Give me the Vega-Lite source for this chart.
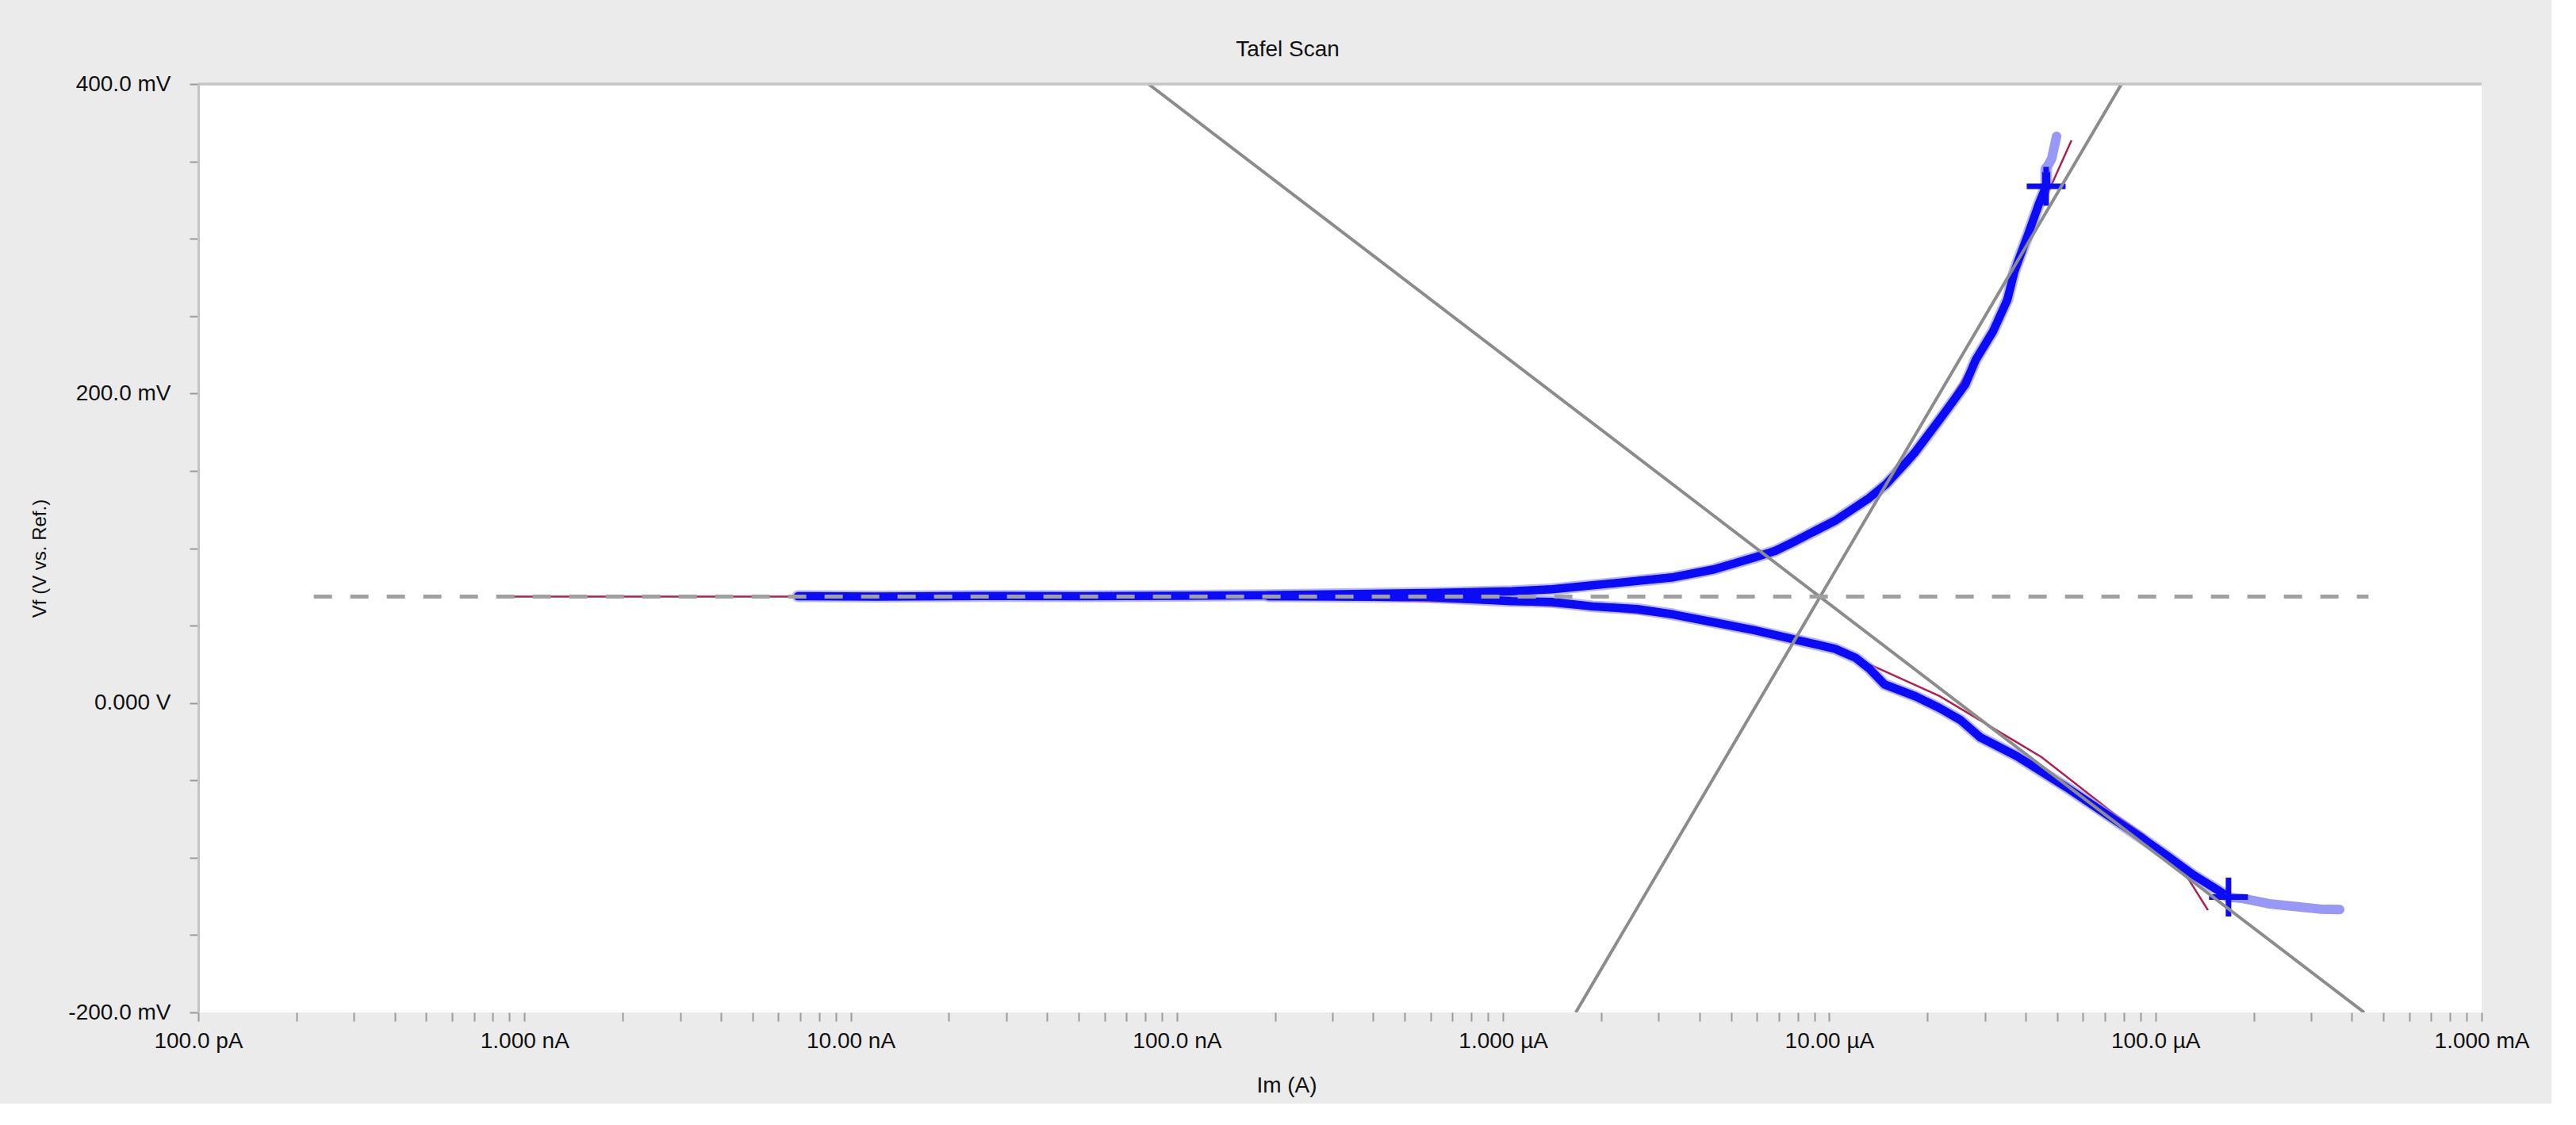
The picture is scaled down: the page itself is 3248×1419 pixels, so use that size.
{
  "$schema": "https://vega.github.io/schema/vega-lite/v6.json",
  "width": 2879,
  "height": 1171,
  "autosize": {"type": "none"},
  "padding": {"left": 250, "top": 106, "right": 88, "bottom": 115},
  "background": "#EBEBEB",
  "title": {"text": "Tafel Scan", "fontSize": 28, "font": "Liberation Sans", "fontWeight": "normal", "color": "#111111", "anchor": "middle", "dx": -66, "offset": -7, "baseline": "alphabetic"},
  "datasets": {
    "blue": [
      {"branch": "a", "seq": 1, "I": 6.89e-9, "E": 0.0690},
      {"branch": "a", "seq": 2, "I": 1.2e-8, "E": 0.0688},
      {"branch": "a", "seq": 3, "I": 2.5e-8, "E": 0.0691},
      {"branch": "a", "seq": 4, "I": 5.0e-8, "E": 0.0690},
      {"branch": "a", "seq": 5, "I": 1.0e-7, "E": 0.0692},
      {"branch": "a", "seq": 6, "I": 1.914e-7, "E": 0.0697},
      {"branch": "a", "seq": 7, "I": 6.0e-7, "E": 0.0711},
      {"branch": "a", "seq": 8, "I": 1.062e-6, "E": 0.0722},
      {"branch": "a", "seq": 9, "I": 1.413e-6, "E": 0.0735},
      {"branch": "a", "seq": 10, "I": 1.879e-6, "E": 0.0760},
      {"branch": "a", "seq": 11, "I": 2.5e-6, "E": 0.0786},
      {"branch": "a", "seq": 12, "I": 3.327e-6, "E": 0.0812},
      {"branch": "a", "seq": 13, "I": 4.43e-6, "E": 0.0863},
      {"branch": "a", "seq": 14, "I": 5.89e-6, "E": 0.0940},
      {"branch": "a", "seq": 15, "I": 6.82e-6, "E": 0.0982},
      {"branch": "a", "seq": 16, "I": 7.83e-6, "E": 0.1044},
      {"branch": "a", "seq": 17, "I": 1.042e-5, "E": 0.1178},
      {"branch": "a", "seq": 18, "I": 1.327e-5, "E": 0.1325},
      {"branch": "a", "seq": 19, "I": 1.5e-5, "E": 0.1418},
      {"branch": "a", "seq": 20, "I": 1.706e-5, "E": 0.1546},
      {"branch": "a", "seq": 21, "I": 1.837e-5, "E": 0.1623},
      {"branch": "a", "seq": 22, "I": 2.183e-5, "E": 0.1833},
      {"branch": "a", "seq": 23, "I": 2.612e-5, "E": 0.2058},
      {"branch": "a", "seq": 24, "I": 2.812e-5, "E": 0.2217},
      {"branch": "a", "seq": 25, "I": 3.177e-5, "E": 0.2401},
      {"branch": "a", "seq": 26, "I": 3.516e-5, "E": 0.2606},
      {"branch": "a", "seq": 27, "I": 3.698e-5, "E": 0.2791},
      {"branch": "a", "seq": 28, "I": 4.093e-5, "E": 0.3042},
      {"branch": "a", "seq": 29, "I": 4.395e-5, "E": 0.3226},
      {"branch": "a", "seq": 30, "I": 4.624e-5, "E": 0.3339},
      {"branch": "a", "seq": 31, "I": 4.624e-5, "E": 0.3452},
      {"branch": "c", "seq": 1, "I": 1.914e-7, "E": 0.0690},
      {"branch": "c", "seq": 2, "I": 5.87e-7, "E": 0.0685},
      {"branch": "c", "seq": 3, "I": 1.062e-6, "E": 0.0658},
      {"branch": "c", "seq": 4, "I": 1.413e-6, "E": 0.0653},
      {"branch": "c", "seq": 5, "I": 1.879e-6, "E": 0.0624},
      {"branch": "c", "seq": 6, "I": 2.576e-6, "E": 0.0607},
      {"branch": "c", "seq": 7, "I": 3.327e-6, "E": 0.0572},
      {"branch": "c", "seq": 8, "I": 4.43e-6, "E": 0.0521},
      {"branch": "c", "seq": 9, "I": 5.89e-6, "E": 0.0470},
      {"branch": "c", "seq": 10, "I": 7.83e-6, "E": 0.0410},
      {"branch": "c", "seq": 11, "I": 1.042e-5, "E": 0.0350},
      {"branch": "c", "seq": 12, "I": 1.208e-5, "E": 0.0290},
      {"branch": "c", "seq": 13, "I": 1.327e-5, "E": 0.0222},
      {"branch": "c", "seq": 14, "I": 1.476e-5, "E": 0.0120},
      {"branch": "c", "seq": 15, "I": 1.837e-5, "E": 0.0043},
      {"branch": "c", "seq": 16, "I": 2.183e-5, "E": -0.0034},
      {"branch": "c", "seq": 17, "I": 2.529e-5, "E": -0.0111},
      {"branch": "c", "seq": 18, "I": 2.904e-5, "E": -0.0222},
      {"branch": "c", "seq": 19, "I": 3.741e-5, "E": -0.0341},
      {"branch": "c", "seq": 20, "I": 4.477e-5, "E": -0.0444},
      {"branch": "c", "seq": 21, "I": 5.346e-5, "E": -0.0546},
      {"branch": "c", "seq": 22, "I": 6.397e-5, "E": -0.0657},
      {"branch": "c", "seq": 23, "I": 7.656e-5, "E": -0.0768},
      {"branch": "c", "seq": 24, "I": 9.162e-5, "E": -0.0879},
      {"branch": "c", "seq": 25, "I": 1.089e-4, "E": -0.0990},
      {"branch": "c", "seq": 26, "I": 1.303e-4, "E": -0.1110},
      {"branch": "c", "seq": 27, "I": 1.56e-4, "E": -0.1212},
      {"branch": "c", "seq": 28, "I": 1.675e-4, "E": -0.1255}
    ],
    "tail": [
      {"branch": "a", "seq": 1, "I": 4.624e-5, "E": 0.3452},
      {"branch": "a", "seq": 2, "I": 4.808e-5, "E": 0.3518},
      {"branch": "a", "seq": 3, "I": 4.977e-5, "E": 0.3662},
      {"branch": "c", "seq": 1, "I": 1.675e-4, "E": -0.1255},
      {"branch": "c", "seq": 2, "I": 1.862e-4, "E": -0.1264},
      {"branch": "c", "seq": 3, "I": 2.228e-4, "E": -0.1298},
      {"branch": "c", "seq": 4, "I": 2.667e-4, "E": -0.1315},
      {"branch": "c", "seq": 5, "I": 3.192e-4, "E": -0.1332},
      {"branch": "c", "seq": 6, "I": 3.673e-4, "E": -0.1335}
    ],
    "fit": [
      {"branch": "a", "seq": 1, "I": 9.2e-10, "E": 0.0687},
      {"branch": "a", "seq": 2, "I": 6.89e-9, "E": 0.0687},
      {"branch": "a", "seq": 3, "I": 1.914e-7, "E": 0.0700},
      {"branch": "a", "seq": 4, "I": 6.0e-7, "E": 0.0716},
      {"branch": "a", "seq": 5, "I": 1.062e-6, "E": 0.0736},
      {"branch": "a", "seq": 6, "I": 1.879e-6, "E": 0.0772},
      {"branch": "a", "seq": 7, "I": 3.327e-6, "E": 0.0834},
      {"branch": "a", "seq": 8, "I": 4.43e-6, "E": 0.0885},
      {"branch": "a", "seq": 9, "I": 5.89e-6, "E": 0.0956},
      {"branch": "a", "seq": 10, "I": 7.83e-6, "E": 0.1053},
      {"branch": "a", "seq": 11, "I": 1.042e-5, "E": 0.1187},
      {"branch": "a", "seq": 12, "I": 1.5e-5, "E": 0.1428},
      {"branch": "a", "seq": 13, "I": 2.183e-5, "E": 0.1843},
      {"branch": "a", "seq": 14, "I": 3.177e-5, "E": 0.2412},
      {"branch": "a", "seq": 15, "I": 4.093e-5, "E": 0.3047},
      {"branch": "a", "seq": 16, "I": 4.84e-5, "E": 0.3365},
      {"branch": "a", "seq": 17, "I": 5.53e-5, "E": 0.3636},
      {"branch": "c", "seq": 1, "I": 6.89e-9, "E": 0.0687},
      {"branch": "c", "seq": 2, "I": 1.914e-7, "E": 0.0680},
      {"branch": "c", "seq": 3, "I": 1.062e-6, "E": 0.0644},
      {"branch": "c", "seq": 4, "I": 1.879e-6, "E": 0.0608},
      {"branch": "c", "seq": 5, "I": 3.327e-6, "E": 0.0557},
      {"branch": "c", "seq": 6, "I": 5.89e-6, "E": 0.0460},
      {"branch": "c", "seq": 7, "I": 1.042e-5, "E": 0.0342},
      {"branch": "c", "seq": 8, "I": 1.327e-5, "E": 0.0250},
      {"branch": "c", "seq": 9, "I": 2.183e-5, "E": 0.0044},
      {"branch": "c", "seq": 10, "I": 4.477e-5, "E": -0.0350},
      {"branch": "c", "seq": 11, "I": 7.656e-5, "E": -0.0734},
      {"branch": "c", "seq": 12, "I": 9.162e-5, "E": -0.0847},
      {"branch": "c", "seq": 13, "I": 1.089e-4, "E": -0.0990},
      {"branch": "c", "seq": 14, "I": 1.268e-4, "E": -0.1144},
      {"branch": "c", "seq": 15, "I": 1.449e-4, "E": -0.1339}
    ],
    "markers": [
      {"branch": "a", "I": 4.624e-5, "E": 0.3339},
      {"branch": "c", "I": 1.675e-4, "E": -0.1255}
    ],
    "tafel": [
      {"line": "cathodic", "seq": 1, "I": 8.185e-8, "E": 0.4},
      {"line": "cathodic", "seq": 2, "I": 4.365e-4, "E": -0.2},
      {"line": "anodic", "seq": 1, "I": 1.671e-6, "E": -0.2},
      {"line": "anodic", "seq": 2, "I": 7.87e-5, "E": 0.4}
    ],
    "ecorr": [
      {"seq": 1, "I": 2.26e-10, "E": 0.0687},
      {"seq": 2, "I": 4.5e-4, "E": 0.0687}
    ]
  },
  "encoding": {
    "x": {
      "field": "I",
      "type": "quantitative",
      "scale": {"type": "log", "domain": [1e-10, 1e-3], "nice": false},
      "axis": {
        "title": "Im (A)",
        "titleX": 1372,
        "titleY": 92,
        "titleAlign": "center",
        "titleBaseline": "middle",
        "titleAnchor": null,
        "domain": false,
        "grid": false,
        "values": [1e-10, 2e-10, 3e-10, 4e-10, 5e-10, 6e-10, 7e-10, 8e-10, 9e-10, 1e-9, 2e-9, 3e-9, 4e-9, 5e-9, 6e-9, 7e-9, 8e-9, 9e-9, 1e-8, 2e-8, 3e-8, 4e-8, 5e-8, 6e-8, 7e-8, 8e-8, 9e-8, 1e-7, 2e-7, 3e-7, 4e-7, 5e-7, 6e-7, 7e-7, 8e-7, 9e-7, 1e-6, 2e-6, 3e-6, 4e-6, 5e-6, 6e-6, 7e-6, 8e-6, 9e-6, 1e-5, 2e-5, 3e-5, 4e-5, 5e-5, 6e-5, 7e-5, 8e-5, 9e-5, 1e-4, 2e-4, 3e-4, 4e-4, 5e-4, 6e-4, 7e-4, 8e-4, 9e-4, 1e-3],
        "labelExpr": "abs(log(datum.value)/LN10 - round(log(datum.value)/LN10)) > 0.01 ? '' : ['100.0 pA','1.000 nA','10.00 nA','100.0 nA','1.000 µA','10.00 µA','100.0 µA','1.000 mA'][round(log(datum.value)/LN10) + 10]",
        "labelFlush": false,
        "labelOverlap": false,
        "labelBound": false,
        "tickSize": 11,
        "labelPadding": 11,
        "labelBaseline": "top"
      }
    },
    "y": {
      "field": "E",
      "type": "quantitative",
      "scale": {"domain": [-0.2, 0.4], "nice": false, "zero": false},
      "axis": {
        "title": "Vf (V vs. Ref.)",
        "titleX": -200,
        "titleY": 598,
        "titleAngle": -90,
        "titleAlign": "center",
        "titleBaseline": "middle",
        "titleAnchor": null,
        "titleFontSize": 24,
        "domain": true,
        "domainColor": "#C4C4C4",
        "domainWidth": 3,
        "grid": false,
        "values": [-0.2, -0.15, -0.1, -0.05, 0, 0.05, 0.1, 0.15, 0.2, 0.25, 0.3, 0.35, 0.4],
        "labelExpr": "abs(datum.value) < 1e-9 ? '0.000 V' : (abs(round(datum.value * 1000) % 200) == 0 ? (datum.value < 0 ? '-' : '') + format(abs(datum.value * 1000), '.1f') + ' mV' : '')",
        "labelFlush": false,
        "labelOverlap": false,
        "labelBound": false,
        "tickSize": 11,
        "labelPadding": 24,
        "labelBaseline": "middle"
      }
    }
  },
  "layer": [
    {
      "data": {"name": "fit"},
      "mark": {"type": "line", "color": "#B3204D", "strokeWidth": 2.5, "clip": true},
      "encoding": {"detail": {"field": "branch"}, "order": {"field": "seq"}}
    },
    {
      "data": {"name": "blue"},
      "mark": {"type": "line", "color": "#8A8AFF", "strokeWidth": 15, "opacity": 0.6, "strokeJoin": "round", "strokeCap": "round", "clip": true},
      "encoding": {"detail": {"field": "branch"}, "order": {"field": "seq"}}
    },
    {
      "data": {"name": "blue"},
      "mark": {"type": "line", "color": "#0B0BF6", "strokeWidth": 10.5, "strokeJoin": "round", "strokeCap": "round", "clip": true},
      "encoding": {"detail": {"field": "branch"}, "order": {"field": "seq"}}
    },
    {
      "data": {"name": "tail"},
      "mark": {"type": "line", "color": "#9898F6", "strokeWidth": 12, "strokeJoin": "round", "strokeCap": "round", "clip": true},
      "encoding": {"detail": {"field": "branch"}, "order": {"field": "seq"}}
    },
    {
      "data": {"name": "markers"},
      "mark": {"type": "point", "shape": "M-1,0H1M0,-1V1", "size": 2400, "filled": false, "strokeWidth": 7, "color": "#0B0BF6", "opacity": 1},
      "encoding": {}
    },
    {
      "data": {"name": "tafel"},
      "mark": {"type": "line", "color": "#8C8C8C", "strokeWidth": 4, "clip": true},
      "encoding": {"detail": {"field": "line"}, "order": {"field": "seq"}}
    },
    {
      "data": {"name": "ecorr"},
      "mark": {"type": "line", "color": "#A0A0A0", "strokeWidth": 5, "strokeDash": [23, 23], "clip": true},
      "encoding": {"order": {"field": "seq"}}
    },
    {
      "data": {"name": "ecorr"},
      "mark": {"type": "rule", "color": "#C4C4C4", "strokeWidth": 3},
      "encoding": {"x": {"datum": 1e-10}, "x2": {"datum": 1e-3}, "y": {"datum": 0.4}}
    }
  ],
  "config": {
    "view": {"fill": "#FFFFFF", "stroke": null},
    "font": "Liberation Sans",
    "axis": {
      "labelFont": "Liberation Sans",
      "labelFontSize": 28,
      "labelColor": "#111111",
      "titleFont": "Liberation Sans",
      "titleFontSize": 28,
      "titleFontWeight": "normal",
      "titleColor": "#111111",
      "tickColor": "#9A9A9A",
      "tickWidth": 2
    }
  }
}
